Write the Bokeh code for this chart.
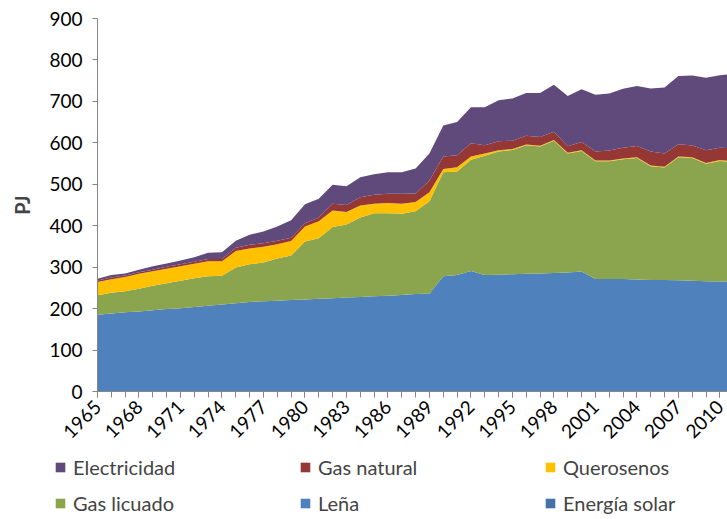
import numpy as np
from bokeh.plotting import figure
from bokeh.models import ColumnDataSource, Legend, LegendItem, FixedTicker, Range1d
from bokeh.embed import file_html
from bokeh.resources import INLINE

years = list(range(1965, 2012))

solar = [0] * 35 + [0.3] * 12

lena = [185, 188, 191, 193, 196, 199, 201, 204, 207, 210, 213, 216, 218, 219, 221, 222,
        224, 225, 227, 228, 230, 231, 233, 235, 236, 278, 281, 291, 281, 282, 283, 284,
        285, 286, 287, 289, 271, 271, 271, 270, 269, 269, 268, 267, 266, 265, 265]

gas_licuado = [47, 50, 51, 55, 59, 62, 66, 69, 71, 69, 86, 91, 93, 102, 107, 140,
               146, 172, 176, 192, 200, 199, 196, 200, 223, 251, 250, 268, 288, 297, 300, 310,
               306, 319, 287, 291, 284, 284, 289, 293, 274, 271, 297, 296, 283, 291, 288]

querosenos = [32, 33, 34, 36, 35, 35, 35, 35, 36, 35, 40, 38, 38, 34, 35, 36,
              41, 40, 30, 29, 23, 25, 24, 22, 22, 8, 10, 8, 5, 3, 2, 2,
              2, 2, 2, 2, 2, 2, 2, 2, 2, 2, 2, 2, 2, 2, 2]

gas_natural = [4, 4, 4, 4, 4, 5, 5, 5, 6, 6, 8, 9, 9, 9, 8, 8,
               9, 16, 17, 20, 22, 22, 24, 21, 28, 30, 29, 32, 20, 22, 20, 21,
               21, 20, 16, 20, 22, 24, 26, 27, 34, 32, 29, 28, 31, 30, 31]

electricidad = [4, 6, 5, 6, 8, 8, 9, 11, 15, 16, 17, 24, 28, 34, 42, 46,
                45, 46, 45, 48, 49, 52, 52, 60, 65, 75, 80, 87, 92, 99, 102, 103,
                106, 113, 121, 127, 137, 138, 142, 145, 152, 159, 165, 169, 175, 175, 180]

y_ticks = list(range(0, 901, 100))
x_label_years = years[::3]

names = ["Energía solar", "Leña", "Gas licuado", "Querosenos", "Gas natural", "Electricidad"]
keys = ["solar", "lena", "glp", "kero", "gn", "elec"]
colors = ["#4572A7", "#4F81BD", "#8BA54F", "#FFC000", "#953735", "#604A7B"]

source = ColumnDataSource(dict(year=years, solar=solar, lena=lena, glp=gas_licuado,
                               kero=querosenos, gn=gas_natural, elec=electricidad))

p = figure(width=727, height=455, output_backend="svg", toolbar_location=None,
           x_range=Range1d(1965, 2010.55), y_range=Range1d(0, 900),
           min_border_left=97, min_border_right=0, min_border_top=18, min_border_bottom=64)
p.outline_line_color = None
p.xgrid.visible = False
p.ygrid.visible = False

rs = p.varea_stack(stackers=keys, x="year", color=colors, source=source)

font = "Lato"
axis_col = "#868686"

p.yaxis.ticker = FixedTicker(ticks=y_ticks)
p.yaxis.minor_tick_line_color = None
p.yaxis.major_tick_in = 0
p.yaxis.major_tick_out = 5
p.yaxis.axis_line_color = axis_col
p.yaxis.major_tick_line_color = axis_col
p.yaxis.major_label_text_font = font
p.yaxis.major_label_text_font_size = "19px"
p.yaxis.major_label_text_color = "#000000"
p.yaxis.major_label_standoff = 10
p.yaxis.axis_label = "PJ"
p.yaxis.axis_label_text_font = font
p.yaxis.axis_label_text_font_style = "bold"
p.yaxis.axis_label_text_font_size = "20px"
p.yaxis.axis_label_standoff = 12

p.xaxis.ticker = FixedTicker(ticks=x_label_years, minor_ticks=years)
p.xaxis.major_tick_in = 0
p.xaxis.major_tick_out = 6
p.xaxis.minor_tick_in = 0
p.xaxis.minor_tick_out = 6
p.xaxis.axis_line_color = axis_col
p.xaxis.major_tick_line_color = axis_col
p.xaxis.minor_tick_line_color = axis_col
p.xaxis.major_label_orientation = np.pi / 4
p.xaxis.major_label_text_font = font
p.xaxis.major_label_text_font_size = "19px"
p.xaxis.major_label_text_color = "#000000"
p.xaxis.major_label_standoff = 6

# legend panel below the chart (separate root so its frame spans the full width)
lf = figure(width=727, height=64, output_backend="svg", toolbar_location=None,
            x_range=Range1d(0, 1), y_range=Range1d(0, 1), min_border=0)
lf.axis.visible = False
lf.xgrid.visible = False
lf.ygrid.visible = False
lf.outline_line_color = None
# stand-ins outside the visible range, used only for the legend swatches
lrs = [lf.varea(x=[5, 6], y1=[0, 0], y2=[1, 1], color=c) for c in colors]

# column-major fill: col1 = Electricidad, Gas licuado; col2 = Gas natural, Leña; col3 = Querosenos, Energía solar
order = [5, 2, 4, 1, 3, 0]
items = [LegendItem(label=names[i], renderers=[lrs[i]]) for i in order]
legend = Legend(items=items, location=(54, 4), ncols=3,
                glyph_width=12, glyph_height=12, label_standoff=7,
                label_width=214, label_height=20, spacing=12, padding=0,
                margin=0,
                border_line_color=None, background_fill_alpha=0,
                label_text_font=font, label_text_font_size="20px")
lf.add_layout(legend, "center")

open("out.html", "w").write(file_html([p, lf], INLINE))
